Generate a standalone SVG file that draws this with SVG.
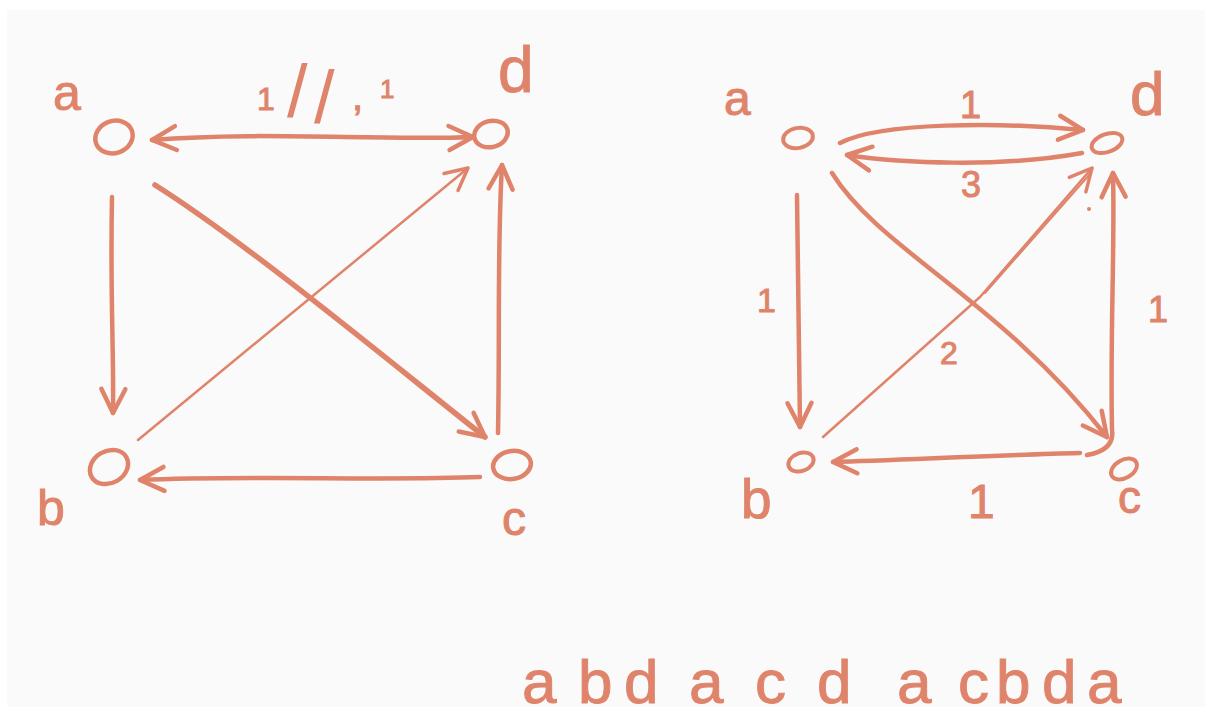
<svg xmlns="http://www.w3.org/2000/svg" width="1212" height="716" viewBox="0 0 1212 716">
<style>
.ink{fill:none;stroke:#df846b;stroke-linecap:round;stroke-linejoin:round}
.n{stroke-width:4.5}
.n2{stroke-width:4}
.thick{stroke-width:5.5}
.med{stroke-width:4.5}
.thin{stroke-width:2.5}
.t{font-family:"Liberation Sans","DejaVu Sans",sans-serif;fill:#df846b;stroke:#df846b;stroke-width:1}
.sl{stroke-width:0}
</style>
<defs>
<marker id="chev" viewBox="-30 -20 40 40" refX="0" refY="0" markerWidth="40" markerHeight="40" markerUnits="userSpaceOnUse" orient="auto-start-reverse" overflow="visible">
<path d="M-24,-12 L0,0 L-24,12" fill="none" stroke="#df846b" stroke-width="4.5" stroke-linecap="round" stroke-linejoin="round"/>
</marker>
<marker id="chevThin" viewBox="-30 -20 40 40" refX="0" refY="0" markerWidth="40" markerHeight="40" markerUnits="userSpaceOnUse" orient="auto" overflow="visible">
<path d="M-22,-11 L0,0 L-22,11" fill="none" stroke="#df846b" stroke-width="3.5" stroke-linecap="round" stroke-linejoin="round"/>
</marker>
</defs>
<rect x="0" y="0" width="1212" height="716" fill="#ffffff"/>
<rect x="7" y="10" width="1198" height="697" fill="#fafafa"/>

<g id="connectors">
<!-- left graph -->
<path class="ink med" d="M152,140 C 260,131 380,141 473,137" marker-start="url(#chev)" marker-end="url(#chev)"/>
<path class="ink med" d="M112,197 C 110,300 114,350 113,413" marker-end="url(#chev)"/>
<path class="ink thick" d="M155,185 C 250,245 400,370 485,437" marker-end="url(#chev)"/>
<path class="ink thin" d="M138,440 L 468,168" marker-end="url(#chevThin)"/>
<path class="ink med" d="M498,433 C 500,330 497,250 502,165" marker-end="url(#chev)"/>
<path class="ink med" d="M480,477 C 380,481 250,475 140,480" marker-end="url(#chev)"/>
<!-- right graph -->
<path class="ink med" d="M840,143 C 880,122 1000,122 1083,130" marker-end="url(#chev)"/>
<path class="ink med" d="M1082,153 C 1000,168 900,163 847,155" marker-end="url(#chev)"/>
<path class="ink med" d="M797,195 C 798,300 799,380 800,427" marker-end="url(#chev)"/>
<path class="ink med" d="M832,173 C 880,250 1000,300 1107,437" marker-end="url(#chev)"/>
<path class="ink thin" d="M823,437 L 980,297 L 1092,168" marker-end="url(#chevThin)"/>
<path class="ink" stroke-width="2" d="M985,293 L 1090,174"/>
<circle cx="1089" cy="209" r="2" fill="#df846b"/>
<path class="ink med" d="M1087,455 Q1115,450 1112,430 C 1110,330 1115,250 1113,173" marker-end="url(#chev)"/>
<path class="ink med" d="M1080,453 C 1000,455 900,460 833,462" marker-end="url(#chev)"/>
</g>

<g id="edge-labels">
<text class="t"><tspan x="257" y="110" font-size="32">1</tspan><tspan class="sl" x="287" y="117" font-size="74">/</tspan><tspan class="sl" x="314" y="123" font-size="74">/</tspan><tspan x="352" y="110" font-size="40">,</tspan><tspan x="380" y="98" font-size="26">1</tspan></text>
<text class="t" x="960" y="118" font-size="38">1</text>
<text class="t" x="961" y="197" font-size="36">3</text>
<text class="t" x="757" y="312" font-size="34">1</text>
<text class="t" x="940" y="364" font-size="32">2</text>
<text class="t" x="1148" y="322" font-size="36">1</text>
<text class="t" x="968" y="518" font-size="48">1</text>
</g>

<g id="node-a-left">
<ellipse class="ink n" cx="114" cy="137" rx="19" ry="16" transform="rotate(-20 114 137)"/>
<text class="t" x="53" y="110" font-size="50">a</text>
</g>
<g id="node-d-left">
<ellipse class="ink n" cx="491" cy="134" rx="17" ry="13" transform="rotate(-15 491 134)"/>
<text class="t" x="498" y="92" font-size="64">d</text>
</g>
<g id="node-b-left">
<ellipse class="ink n" cx="109" cy="467" rx="20" ry="16" transform="rotate(-30 109 467)"/>
<text class="t" x="37" y="525" font-size="50">b</text>
</g>
<g id="node-c-left">
<ellipse class="ink n" cx="512" cy="465" rx="19" ry="14" transform="rotate(-10 512 465)"/>
<text class="t" x="502" y="535" font-size="48">c</text>
</g>

<g id="node-a-right">
<ellipse class="ink n2" cx="798" cy="138" rx="15" ry="10" transform="rotate(-10 798 138)"/>
<text class="t" x="724" y="115" font-size="48">a</text>
</g>
<g id="node-d-right">
<ellipse class="ink n2" cx="1107" cy="143" rx="16" ry="9" transform="rotate(-20 1107 143)"/>
<text class="t" x="1130" y="115" font-size="62">d</text>
</g>
<g id="node-b-right">
<ellipse class="ink n2" cx="801" cy="462" rx="13" ry="9" transform="rotate(-20 801 462)"/>
<text class="t" x="741" y="518" font-size="55">b</text>
</g>
<g id="node-c-right">
<ellipse class="ink n2" cx="1124" cy="469" rx="14" ry="9" transform="rotate(-30 1124 469)"/>
<text class="t" x="1118" y="513" font-size="46">c</text>
</g>

<g id="tour">
<text class="t" font-size="62" x="522 578 624 689 755 817 897 958 996 1042 1087" y="703">abdacdacbda</text>
</g>
</svg>
